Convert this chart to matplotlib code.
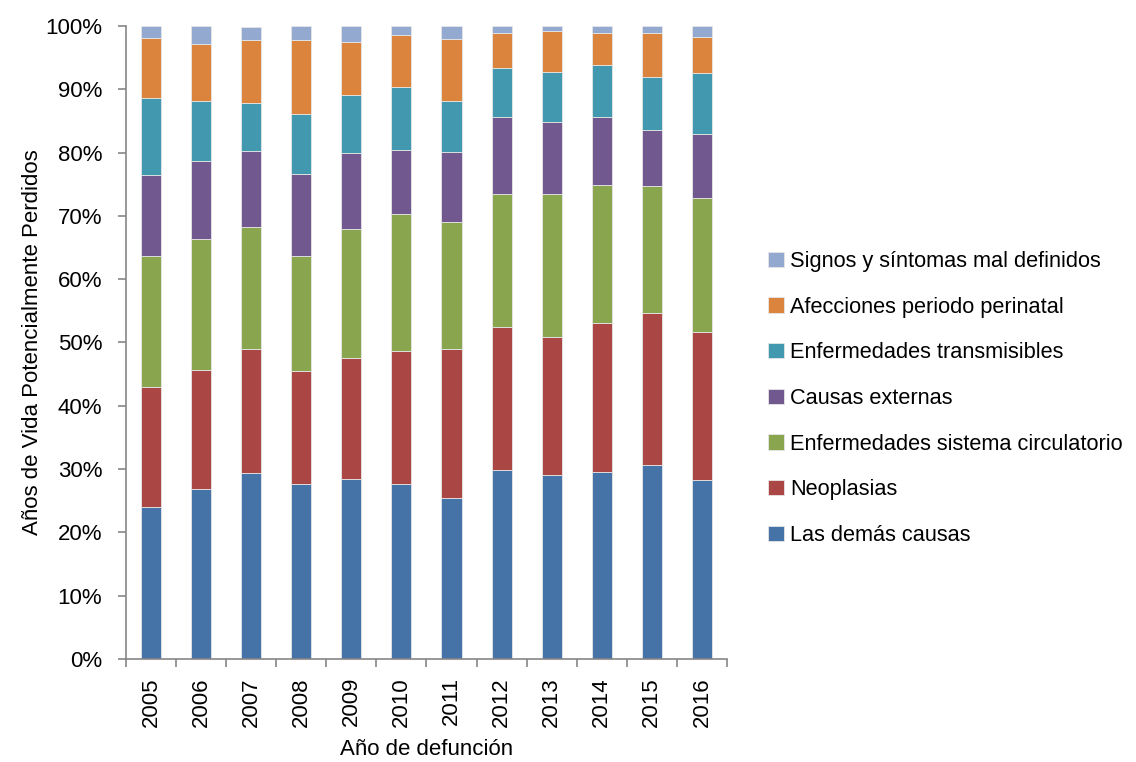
import numpy as np
import matplotlib
matplotlib.use("Agg")
import matplotlib.pyplot as plt
from matplotlib.ticker import PercentFormatter

plt.rcParams['font.family'] = ['Liberation Sans', 'DejaVu Sans']

anios = ['2005', '2006', '2007', '2008', '2009', '2010',
         '2011', '2012', '2013', '2014', '2015', '2016']

# porcentaje de AVPP por grupo de causas (cada año suma 100)
demas_causas = [24.0, 26.9, 29.4, 27.7, 28.5, 27.6, 25.5, 29.8, 29.1, 29.6, 30.7, 28.2]
neoplasias = [18.9, 18.8, 19.6, 17.8, 19.0, 21.1, 23.4, 22.7, 21.8, 23.4, 24.0, 23.5]
circulatorio = [20.8, 20.6, 19.2, 18.2, 20.5, 21.6, 20.1, 20.9, 22.5, 21.8, 20.0, 21.1]
externas = [12.8, 12.3, 12.1, 12.9, 12.0, 10.1, 11.1, 12.3, 11.5, 10.8, 8.9, 10.2]
transmisibles = [12.1, 9.5, 7.6, 9.5, 9.1, 9.9, 8.0, 7.6, 7.9, 8.2, 8.4, 9.6]
perinatal = [9.5, 9.1, 9.9, 11.7, 8.4, 8.2, 9.9, 5.6, 6.4, 5.1, 6.9, 5.7]
mal_definidos = [1.9, 2.8, 2.1, 2.2, 2.5, 1.5, 2.0, 1.1, 0.8, 1.1, 1.1, 1.7]

series = [
    ('Las demás causas', demas_causas, '#4572A7'),
    ('Neoplasias', neoplasias, '#AA4643'),
    ('Enfermedades sistema circulatorio', circulatorio, '#89A54E'),
    ('Causas externas', externas, '#71588F'),
    ('Enfermedades transmisibles', transmisibles, '#4198AF'),
    ('Afecciones periodo perinatal', perinatal, '#DB843D'),
    ('Signos y síntomas mal definidos', mal_definidos, '#93A9CF'),
]

fs = 16

fig = plt.figure(figsize=(11.36, 7.62), dpi=100)
ax = fig.add_axes([0.1109, 0.1352, 0.529, 0.8307])

x = np.arange(len(anios))
base = np.zeros(len(anios))
for nombre, valores, color in series:
    ax.bar(x, valores, width=0.4, bottom=base, color=color, label=nombre,
           edgecolor='#e6e6e6', linewidth=0.6)
    base += np.array(valores)

gris = '#868686'
ax.set_ylim(0, 100)
ax.set_xlim(-0.5, len(anios) - 0.5)
ax.set_yticks(np.arange(0, 101, 10))
ax.yaxis.set_major_formatter(PercentFormatter(decimals=0))
ax.set_xticks(x)
ax.set_xticklabels(anios, rotation=90)
ax.set_xticks(np.arange(-0.5, len(anios), 1), minor=True)
ax.tick_params(axis='x', which='major', length=0, pad=13, labelsize=fs)
ax.tick_params(axis='x', which='minor', length=6, color=gris, width=1.2)
ax.tick_params(axis='y', length=6, color=gris, width=1.2, labelsize=fs, pad=11)

for s in ['top', 'right']:
    ax.spines[s].set_visible(False)
for s in ['left', 'bottom']:
    ax.spines[s].set_color(gris)
    ax.spines[s].set_linewidth(1.2)

ax.set_ylabel('Años de Vida Potencialmente Perdidos', fontsize=fs, labelpad=2)
ax.set_xlabel('Año de defunción', fontsize=fs, labelpad=9)

handles, labels = ax.get_legend_handles_labels()
fig.legend(handles[::-1], labels[::-1], loc='center left',
           bbox_to_anchor=(0.659, 0.477), frameon=False, fontsize=15.7,
           handlelength=0.7, handleheight=0.7, handletextpad=0.3,
           labelspacing=1.13)

fig.savefig('out.png', dpi=100)
